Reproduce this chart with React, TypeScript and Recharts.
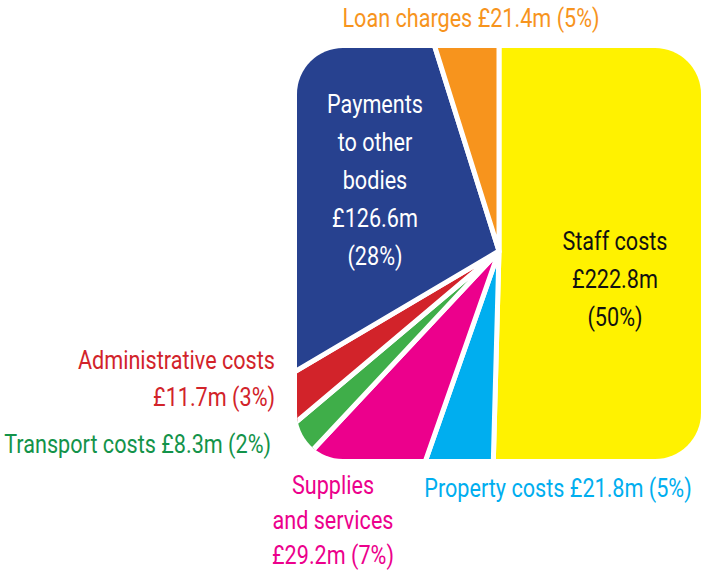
import { Cell, Pie, PieChart } from "recharts";

const names = [
  "Staff costs",
  "Property costs",
  "Supplies\nand services",
  "Transport costs",
  "Administrative costs",
  "Payments\nto other\nbodies",
  "Loan charges",
];
const values = [222.8, 21.8, 29.2, 8.3, 11.7, 126.6, 21.4];
const shares = ["50%", "5%", "7%", "2%", "3%", "28%", "5%"];
const fills = ["#fff200", "#00aeef", "#ec008c", "#3fae49", "#d2232a", "#27418f", "#f7941d"];
const textColors = ["#111", "#00aeef", "#ec008c", "#13934a", "#d2232a", "#fff", "#f7941d"];

// how each label is broken up and where it sits
const labelLayout = [
  { x: 615, y: 250, anchor: "middle", lh: 38, mode: "stack" },
  { x: 558, y: 497, anchor: "middle", lh: 0, mode: "inline" },
  { x: 333, y: 494, anchor: "middle", lh: 35, mode: "valueLine" },
  { x: 271, y: 453, anchor: "end", lh: 0, mode: "inline" },
  { x: 275, y: 369, anchor: "end", lh: 37, mode: "valueLine" },
  { x: 375, y: 113, anchor: "middle", lh: 38, mode: "stack" },
  { x: 471, y: 27, anchor: "middle", lh: 0, mode: "inline" },
];

const data = names.map((name, i) => ({ name, value: values[i] }));

const FONT = "Roboto, 'Noto Sans', sans-serif";
const SQUEEZE = 0.865; // the original face is a condensed one
const W = 701;
const H = 574;
const CX = 499;
const CY = 251;

function labelLines(i: number) {
  const nameParts = names[i].split("\n");
  const money = `£${values[i].toFixed(1)}m`;
  const pct = `(${shares[i]})`;
  const mode = labelLayout[i].mode;
  if (mode === "inline") return [`${nameParts.join(" ")} ${money} ${pct}`];
  if (mode === "valueLine") return [...nameParts, `${money} ${pct}`];
  return [...nameParts, money, pct];
}

function renderLabel(props: any) {
  const i = props.index as number;
  const l = labelLayout[i];
  return (
    <text
      key={`lbl-${i}`}
      x={l.x}
      y={l.y}
      textAnchor={l.anchor as any}
      fill={textColors[i]}
      fontFamily={FONT}
      fontSize={25}
      transform={`translate(${l.x} 0) scale(${SQUEEZE} 1) translate(${-l.x} 0)`}
    >
      {labelLines(i).map((t, k) => (
        <tspan key={k} x={l.x} y={l.y + k * l.lh}>
          {t}
        </tspan>
      ))}
    </text>
  );
}

export default function App() {
  return (
    <div style={{ position: "absolute", left: 0, top: 0, width: W, height: H, background: "#fff" }}>
      <div
        style={{
          position: "absolute",
          left: 0,
          top: 0,
          width: W,
          height: H,
          clipPath: "inset(48px 0px 115px 297px round 46px)",
        }}
      >
        <PieChart width={W} height={H} margin={{ top: 0, right: 0, bottom: 0, left: 0 }}>
          <Pie
            data={data}
            dataKey="value"
            nameKey="name"
            cx={CX}
            cy={CY}
            innerRadius={0}
            outerRadius={330}
            startAngle={90}
            endAngle={-270}
            stroke="#fff"
            strokeWidth={5}
            isAnimationActive={false}
          >
            {data.map((d, i) => (
              <Cell key={d.name} fill={fills[i]} />
            ))}
          </Pie>
        </PieChart>
      </div>
      <div style={{ position: "absolute", left: 0, top: 0, width: W, height: H }}>
        <PieChart width={W} height={H} margin={{ top: 0, right: 0, bottom: 0, left: 0 }}>
          <Pie
            data={data}
            dataKey="value"
            nameKey="name"
            cx={CX}
            cy={CY}
            outerRadius={10}
            startAngle={90}
            endAngle={-270}
            fill="none"
            stroke="none"
            label={renderLabel}
            labelLine={false}
            isAnimationActive={false}
          />
        </PieChart>
      </div>
    </div>
  );
}
